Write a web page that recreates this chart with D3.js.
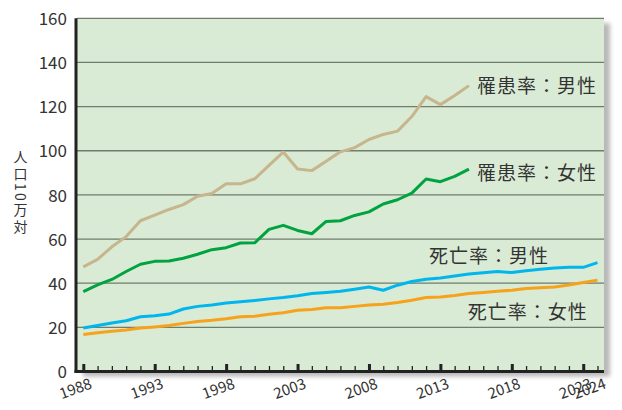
<!DOCTYPE html>
<html><head><meta charset="utf-8">
<script src="https://cdn.jsdelivr.net/npm/d3@7"></script>
<style>
html,body{margin:0;padding:0;background:#fff;}
svg{display:block;}
text{font-family:"Noto Sans CJK JP","Noto Sans",sans-serif;fill:#333;}
</style></head><body>
<svg id="c" width="622" height="410"></svg>
<script>
const years = d3.range(1988, 2025);
const incidenceMale = [47.4, 50.8, 56.5, 61.1, 68.3, 70.8, 73.4, 75.6, 79.4, 80.6, 85.0, 85.0, 87.3, 93.4, 99.4, 91.7, 91.0, 95.2, 99.5, 101.4, 105.1, 107.4, 108.9, 115.5, 124.5, 120.9, 125.0, 129.5];
const incidenceFemale = [36.2, 39.2, 41.7, 45.3, 48.6, 49.9, 50.1, 51.3, 53.1, 55.2, 56.1, 58.2, 58.3, 64.4, 66.2, 63.9, 62.4, 68.0, 68.3, 70.7, 72.3, 75.9, 77.8, 80.8, 87.2, 86.0, 88.4, 91.7];
const mortalityMale = [19.7, 20.8, 22.0, 23.0, 24.8, 25.3, 26.0, 28.3, 29.5, 30.1, 31.0, 31.6, 32.2, 32.9, 33.5, 34.3, 35.3, 35.8, 36.4, 37.3, 38.3, 36.8, 39.1, 40.8, 41.8, 42.4, 43.3, 44.2, 44.7, 45.3, 44.8, 45.6, 46.3, 46.9, 47.2, 47.2, 49.3];
const mortalityFemale = [16.8, 17.6, 18.2, 18.8, 19.7, 20.2, 20.8, 21.8, 22.7, 23.2, 23.9, 24.8, 25.0, 25.9, 26.6, 27.7, 28.1, 28.9, 28.9, 29.5, 30.1, 30.5, 31.3, 32.3, 33.5, 33.8, 34.4, 35.3, 35.8, 36.4, 36.8, 37.6, 37.9, 38.3, 39.2, 40.3, 41.4];
const seriesNames = ["罹患率：男性", "罹患率：女性", "死亡率：男性", "死亡率：女性"];
const seriesColors = ["#c7b58e", "#00a33f", "#00b6ec", "#f7a21b"];
const yTicks = [0, 20, 40, 60, 80, 100, 120, 140, 160];
const xLabelYears = [1988, 1993, 1998, 2003, 2008, 2013, 2018, 2023, 2024];
const majorTickYears = [1988, 1993, 1998, 2003, 2008, 2013, 2018, 2023];
const yTitle = ["人口", "10", "万対"];

const svg = d3.select("#c");
const plot = {left: 77, right: 604, top: 18.3, bottom: 371.5};
const x = d3.scaleLinear().domain([1988, 2024]).range([83.3, 597.5]);
const y = d3.scaleLinear().domain([0, 160]).range([plot.bottom, plot.top]);

const defs = svg.append("defs");
const f = defs.append("filter").attr("id", "sh").attr("x", "-5%").attr("y", "-5%").attr("width", "115%").attr("height", "115%");
f.append("feDropShadow").attr("dx", 6).attr("dy", 5).attr("stdDeviation", 2.2).attr("flood-color", "#000").attr("flood-opacity", 0.28);

svg.append("rect").attr("x", plot.left).attr("y", plot.top)
  .attr("width", plot.right - plot.left).attr("height", plot.bottom - plot.top)
  .attr("fill", "#d9ead5").attr("filter", "url(#sh)");

// grid
svg.append("g").selectAll("line").data(yTicks.filter(d => d > 0)).join("line")
  .attr("x1", plot.left).attr("x2", plot.right)
  .attr("y1", d => y(d)).attr("y2", d => y(d))
  .attr("stroke", "#6f7d6c").attr("stroke-width", 1.3);

// y axis labels
const ya = svg.append("g").attr("transform", `translate(${plot.left - 10},0)`)
  .call(d3.axisLeft(y).tickValues(yTicks).tickSize(0).tickPadding(0));
ya.select(".domain").remove();
ya.selectAll("text").style("font-size", "17px").style("font-family", "'Noto Sans CJK JP',sans-serif").attr("fill", "#333").attr("dy", "0.36em");

// y title (vertical writing, "10" set upright-combined)
const yt = svg.append("text").attr("x", 20.5).attr("y", 150)
  .style("writing-mode", "vertical-rl").style("font-size", "14px").style("letter-spacing", "2.3px");
yt.append("tspan").text(yTitle[0]);
yt.append("tspan").style("text-combine-upright", "all").text(yTitle[1]);
yt.append("tspan").text(yTitle[2]);

// lines
const line = d3.line().x((d, i) => x(years[i])).y(d => y(d));
const allSeries = [incidenceMale, incidenceFemale, mortalityMale, mortalityFemale];
svg.append("g").selectAll("path").data(allSeries).join("path")
  .attr("d", d => line(d)).attr("fill", "none")
  .attr("stroke", (d, i) => seriesColors[i]).attr("stroke-width", 3)
  .attr("stroke-linejoin", "round");

// x axis ticks (minor then major), pointing up
const xMinor = svg.append("g").attr("transform", `translate(0,${plot.bottom})`)
  .call(d3.axisBottom(x).tickValues(years).tickSize(-5.5).tickFormat(""));
xMinor.select(".domain").remove();
xMinor.selectAll("line").attr("stroke", "#222").attr("stroke-width", 1.3);
const xMajor = svg.append("g").attr("transform", `translate(0,${plot.bottom})`)
  .call(d3.axisBottom(x).tickValues(majorTickYears).tickSize(-7.5).tickFormat(""));
xMajor.select(".domain").remove();
xMajor.selectAll("line").attr("stroke", "#222").attr("stroke-width", 3);

// axis lines
svg.append("line").attr("x1", plot.left - 1).attr("x2", plot.left - 1)
  .attr("y1", plot.top).attr("y2", plot.bottom + 1.5).attr("stroke", "#222").attr("stroke-width", 3);
svg.append("line").attr("x1", plot.left - 2.5).attr("x2", plot.right)
  .attr("y1", plot.bottom).attr("y2", plot.bottom).attr("stroke", "#222").attr("stroke-width", 3);

// x labels rotated
svg.append("g").selectAll("text").data(xLabelYears).join("text")
  .attr("transform", d => `translate(${x(d) - 6},${plot.bottom + 22}) rotate(-20)`)
  .attr("text-anchor", "middle").style("font-size", "15px").text(d => d);

// series labels
const labels = [
  {s: 0, x: x(2015) + 8, y: y(129.5) + 1},
  {s: 1, x: x(2015) + 8, y: y(91.7) + 4},
  {s: 2, x: x(2012) + 3, y: y(52.3)},
  {s: 3, x: x(2014) + 13, y: y(26.8)}
];
svg.append("g").selectAll("text").data(labels).join("text")
  .attr("x", d => d.x).attr("y", d => d.y).attr("dy", "0.36em")
  .style("font-size", "19px").style("letter-spacing", "1px")
  .text(d => seriesNames[d.s]);
</script>
</body></html>
